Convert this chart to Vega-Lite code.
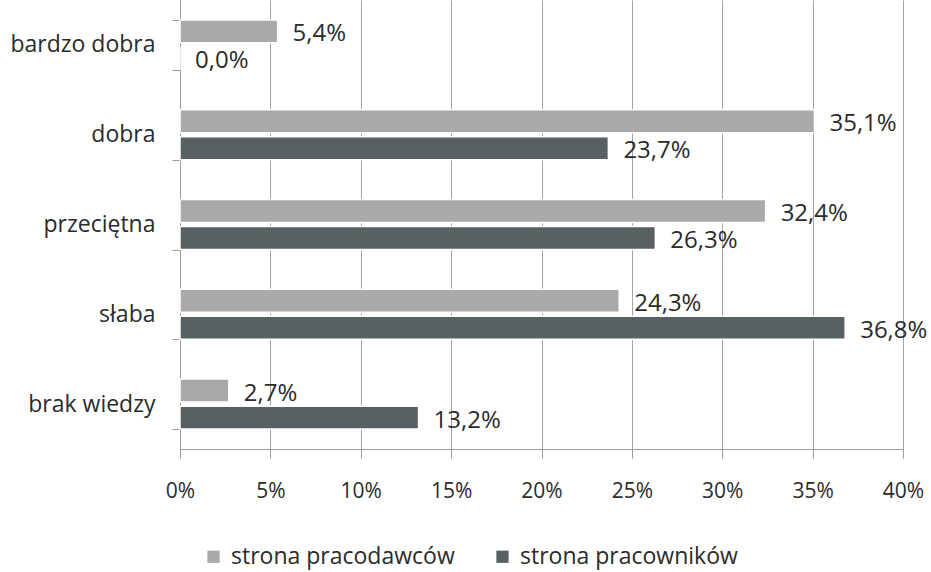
{
  "$schema": "https://vega.github.io/schema/vega-lite/v6.json",
  "width": 723,
  "height": 449,
  "autosize": {"type": "none"},
  "padding": {"left": 180, "top": 0, "right": 28, "bottom": 123},
  "background": "white",
  "config": {
    "locale": {"number": {"decimal": ",", "thousands": " ", "grouping": [3], "currency": ["", " zł"]}},
    "font": "Open Sans",
    "view": {"stroke": null}
  },
  "data": {
    "values": [
      {"category": "bardzo dobra", "series": "strona pracodawców", "value": 0.054},
      {"category": "bardzo dobra", "series": "strona pracowników", "value": 0.0},
      {"category": "dobra", "series": "strona pracodawców", "value": 0.351},
      {"category": "dobra", "series": "strona pracowników", "value": 0.237},
      {"category": "przeciętna", "series": "strona pracodawców", "value": 0.324},
      {"category": "przeciętna", "series": "strona pracowników", "value": 0.263},
      {"category": "słaba", "series": "strona pracodawców", "value": 0.243},
      {"category": "słaba", "series": "strona pracowników", "value": 0.368},
      {"category": "brak wiedzy", "series": "strona pracodawców", "value": 0.027},
      {"category": "brak wiedzy", "series": "strona pracowników", "value": 0.132}
    ]
  },
  "encoding": {
    "y": {
      "field": "category",
      "type": "nominal",
      "sort": ["bardzo dobra", "dobra", "przeciętna", "słaba", "brak wiedzy"],
      "scale": {"paddingInner": 0.443, "paddingOuter": 0.2215},
      "axis": {
        "title": null,
        "tickBand": "extent",
        "domainColor": "#9a9ea2",
        "tickColor": "#9a9ea2",
        "tickSize": 8,
        "labelFontSize": 23,
        "labelColor": "#2b2b2b",
        "labelPadding": 17,
        "labelLimit": 0,
        "grid": false
      }
    },
    "yOffset": {
      "field": "series",
      "type": "nominal",
      "sort": ["strona pracodawców", "strona pracowników"],
      "scale": {"paddingInner": 0.15}
    },
    "x": {
      "field": "value",
      "type": "quantitative",
      "scale": {"domain": [0, 0.4], "nice": false},
      "axis": {
        "title": null,
        "format": "0%",
        "values": [0, 0.05, 0.1, 0.15, 0.2, 0.25, 0.3, 0.35, 0.4],
        "grid": true,
        "gridColor": "#a0a4a8",
        "gridOpacity": 1,
        "domainColor": "#9a9ea2",
        "tickColor": "#9a9ea2",
        "tickSize": 9,
        "labelFontSize": 21,
        "labelColor": "#2b2b2b",
        "labelPadding": 22,
        "labelFlush": false
      }
    }
  },
  "layer": [
    {
      "mark": {"type": "bar", "stroke": "white", "strokeWidth": 1.5},
      "encoding": {
        "color": {
          "field": "series",
          "type": "nominal",
          "scale": {"domain": ["strona pracodawców", "strona pracowników"], "range": ["#a7a9ab", "#596063"]},
          "legend": {
            "title": null,
            "orient": "none",
            "direction": "horizontal",
            "legendX": 22,
            "legendY": 545,
            "symbolType": "square",
            "symbolSize": 150,
            "symbolStrokeWidth": 0,
            "labelFontSize": 23,
            "labelColor": "#2b2b2b",
            "labelOffset": 6,
            "labelLimit": 0,
            "columnPadding": 36
          }
        }
      }
    },
    {
      "mark": {"type": "text", "align": "left", "baseline": "middle", "dx": 15, "dy": 3, "fontSize": 24, "color": "#2b2b2b"},
      "encoding": {
        "text": {"field": "value", "type": "quantitative", "format": ".1%"}
      }
    }
  ]
}
